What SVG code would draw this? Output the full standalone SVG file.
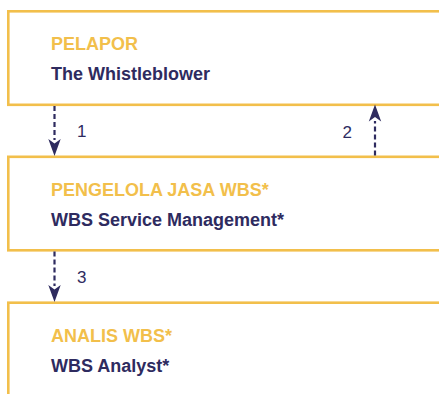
<svg xmlns="http://www.w3.org/2000/svg" width="439" height="394" viewBox="0 0 439 394">
  <defs>
    <style>
      .box { fill: #ffffff; stroke: #F2BF4B; stroke-width: 2.6; }
      .title { font-family: "Liberation Sans", Arial, sans-serif; font-weight: bold; font-size: 18px; fill: #F2BF4B; }
      .sub { font-family: "Liberation Sans", Arial, sans-serif; font-weight: bold; font-size: 18px; fill: #2E2B5F; }
      .lbl { font-family: "Liberation Sans", Arial, sans-serif; font-size: 17px; fill: #2E2B5F; }
      .conn { fill: none; stroke: #2E2B5F; stroke-width: 2.2; stroke-dasharray: 5 3; }
      .head { fill: #2E2B5F; }
    </style>
  </defs>
  <rect width="439" height="394" fill="#ffffff"/>
  <g id="node-pelapor">
    <rect class="box" x="8.3" y="11.3" width="460" height="93.5"/>
    <text class="title" x="51" y="49.5">PELAPOR</text>
    <text class="sub" x="51" y="80">The Whistleblower</text>
  </g>
  <g id="node-pengelola">
    <rect class="box" x="8.3" y="156.8" width="460" height="93.5"/>
    <text class="title" x="51" y="195.5">PENGELOLA JASA WBS*</text>
    <text class="sub" x="51" y="226">WBS Service Management*</text>
  </g>
  <g id="node-analis">
    <rect class="box" x="8.3" y="302.7" width="460" height="120"/>
    <text class="title" x="51" y="341.5">ANALIS WBS*</text>
    <text class="sub" x="51" y="371.5">WBS Analyst*</text>
  </g>
  <g id="connectors">
    <g id="c1">
      <line class="conn" x1="54.5" y1="106" x2="54.5" y2="140"/>
      <path class="head" d="M48.3,139 L54.5,156 L60.7,139 L54.5,143.5 Z"/>
      <text class="lbl" x="77" y="137">1</text>
    </g>
    <g id="c2">
      <line class="conn" x1="375" y1="155.5" x2="375" y2="121"/>
      <path class="head" d="M368.8,121.5 L375,104.5 L381.2,121.5 L375,117 Z"/>
      <text class="lbl" x="342.5" y="137.5">2</text>
    </g>
    <g id="c3">
      <line class="conn" x1="54.5" y1="251.5" x2="54.5" y2="286"/>
      <path class="head" d="M48.3,285 L54.5,302 L60.7,285 L54.5,289.5 Z"/>
      <text class="lbl" x="77" y="283">3</text>
    </g>
  </g>
</svg>
